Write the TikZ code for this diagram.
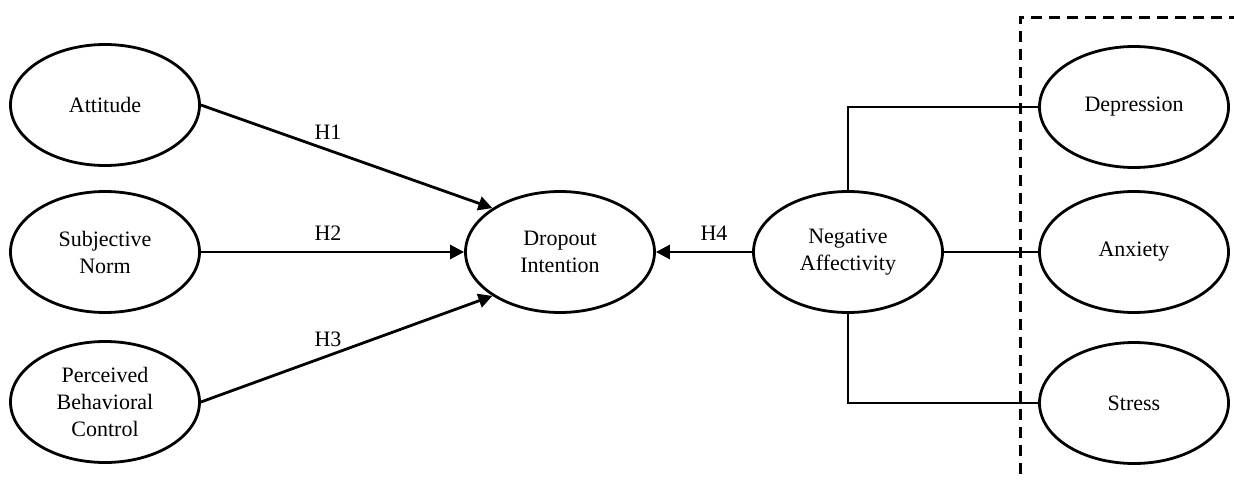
\documentclass[tikz,border=0pt]{standalone}
\usepackage{fontspec}
\setmainfont{Liberation Serif}
\usetikzlibrary{shapes.geometric,arrows.meta}
\begin{document}
\begin{tikzpicture}[x=1pt,y=-1pt,
  latent/.style={draw=black,line width=2.8pt,ellipse,minimum width=189pt,minimum height=121pt,inner sep=0pt,align=center,font=\fontsize{22}{27}\selectfont},
  path/.style={line width=2.8pt,-{Triangle[length=14pt,width=14pt]}},
  link/.style={line width=2.8pt},
  hlabel/.style={font=\fontsize{22}{26}\selectfont,inner sep=0pt},
  frame/.style={line width=3pt,dash pattern=on 11pt off 7pt}]
\useasboundingbox (0,0) rectangle (1234,482);
\node[latent] (att) at (105,105) {Attitude};
\node[latent] (sn) at (105,252) {Subjective\\Norm};
\node[latent] (pbc) at (105,402) {Perceived\\Behavioral\\Control};
\node[latent] (drop) at (560,252) {Dropout\\Intention};
\node[latent] (neg) at (848,252) {Negative\\Affectivity};
\node[latent] (dep) at (1134,107) {Depression};
\node[latent] (anx) at (1134,252) {Anxiety};
\node[latent] (str) at (1134,403) {Stress};
\draw[path] (att.east) -- (drop.147);
\draw[path] (sn.east) -- (drop.west);
\draw[path] (pbc.east) -- (drop.213);
\draw[path] (neg.west) -- (drop.east);
\node[hlabel] (h1) at (328,132) {H1};
\node[hlabel] (h2) at (328,233) {H2};
\node[hlabel] (h3) at (328,339) {H3};
\node[hlabel] (h4) at (714,233) {H4};
\draw[link] (neg.north) |- (dep.west);
\draw[link] (neg.east) -- (anx.west);
\draw[link] (neg.south) |- (str.west);
\coordinate (fa) at (1020,474);
\coordinate (fb) at (1020,17);
\coordinate (fc) at (1234,17);
\draw[frame] (fa) -- (fb) -- (fc);
\end{tikzpicture}
\end{document}
